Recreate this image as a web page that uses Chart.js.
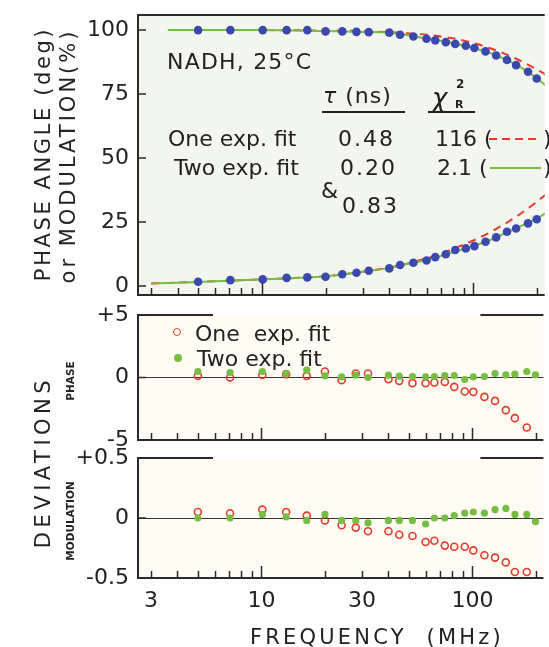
<!DOCTYPE html>
<html>
<head>
<meta charset="utf-8">
<script src="https://cdn.jsdelivr.net/npm/chart.js@4.4.0/dist/chart.umd.min.js"></script>
<style>
  body { margin: 0; background: #fff; }
  #wrap { position: relative; width: 549px; height: 647px; overflow: hidden; font-family: "DejaVu Sans", sans-serif; color: #222; }
  canvas { position: absolute; left: 0; }
  .txt { position: absolute; white-space: nowrap; line-height: 1; }
  .vert { position: absolute; white-space: nowrap; line-height: 1; transform: translate(-50%, -50%) rotate(-90deg); }
  .bar { position: absolute; }
</style>
</head>
<body>
<div id="wrap">
  <canvas id="mainChart" width="549" height="310" style="top:0px"></canvas>
  <canvas id="phaseDevChart" width="549" height="170" style="top:290px"></canvas>
  <canvas id="modDevChart" width="549" height="212" style="top:435px"></canvas>
</div>

<script>
// DATA
const FREQ = [5, 7.1, 10.1, 13.1, 16.4, 20, 24, 28, 32, 40, 45, 52, 60, 66, 74, 82, 92, 101, 114, 128, 144, 159, 181, 199];
const MOD_PTS = [100, 100, 100, 100, 100, 99.5, 99.5, 99.3, 99.2, 99.0, 98.2, 97.5, 96.6, 96.0, 95.3, 94.6, 93.9, 93.0, 91.7, 90.1, 88.3, 86.3, 83.7, 81.1];
const PHASE_PTS = [1.7, 2.3, 2.6, 3.2, 3.4, 3.6, 4.6, 5.2, 6.0, 6.9, 8.2, 9.1, 10.0, 11.3, 12.4, 14.1, 14.7, 15.6, 17.3, 19.0, 21.2, 22.5, 24.5, 26.1];

// fitted curves
const FIT_FREQ = [3, 3.6, 5, 7, 10, 15, 20, 30, 40, 50, 60, 70, 80, 100, 120, 140, 160, 180, 200, 220];
const ONE_MOD = [null, 100, 100, 100, 100, 99.9, 99.8, 99.6, 99.2, 98.7, 98.2, 97.5, 96.8, 94.9, 92.9, 90.8, 88.7, 86.6, 84.5, 82.6];
const TWO_MOD = [null, 100, 100, 100, 100, 99.8, 99.6, 99.3, 99.0, 97.9, 96.7, 95.8, 94.8, 93.0, 91.0, 88.8, 86.3, 83.8, 81.0, 78.3];
const ONE_PHASE = [1.0, 1.2, 1.6, 2.1, 2.6, 3.2, 3.8, 5.6, 7.2, 9.0, 10.8, 12.6, 14.5, 17.8, 21.0, 24.2, 27.2, 30.2, 33.0, 35.8];
const TWO_PHASE = [1.0, 1.2, 1.6, 2.1, 2.6, 3.2, 3.8, 5.6, 7.1, 8.8, 10.2, 11.7, 13.2, 15.7, 18.0, 20.5, 22.7, 24.6, 26.4, 28.6];

// deviations
const DEV_PHASE_ONE = [0.13, 0, 0.21, 0.27, 0.13, 0.48, -0.21, 0.32, 0.32, -0.13, -0.27, -0.45, -0.45, -0.4, -0.35, -0.75, -1.12, -1.15, -1.55, -1.87, -2.61, -3.25, -4.0, null];
const DEV_PHASE_TWO = [0.48, 0.4, 0.48, 0.32, 0.59, 0.13, 0.05, 0.19, 0, 0.19, 0.11, 0.08, 0.05, 0.08, 0.16, 0.16, -0.16, 0.05, 0.08, 0.32, 0.21, 0.27, 0.48, 0.21];
const DEV_MOD_ONE = [0.05, 0.04, 0.07, 0.05, 0.02, -0.02, -0.06, -0.08, -0.11, -0.11, -0.14, -0.15, -0.2, -0.19, -0.23, -0.24, -0.24, -0.27, -0.31, -0.33, -0.37, -0.45, -0.45, null];
const DEV_MOD_TWO = [0, 0, 0.03, 0.01, -0.02, 0.03, -0.02, -0.02, -0.04, -0.02, -0.02, -0.02, -0.05, 0, 0, 0.02, 0.04, 0.05, 0.04, 0.07, 0.08, 0.03, 0.03, -0.03];

// axes
const FREQ_TICKS = [3, 4, 5, 6, 7, 8, 9, 10, 20, 30, 40, 50, 60, 70, 80, 90, 100, 200];
const FREQ_LABELS = [3, 10, 30, 100];
const MAIN_TICKS = [0, 25, 50, 75, 100];
const PHASE_DEV_TICKS = [-5, 0, 5];
const MOD_DEV_TICKS = [-0.5, 0, 0.5];

const FONT = "DejaVu Sans";
const BLUE = "#3a49ad";
const GREEN = "#76bd43";
const RED = "#e63a2a";

const pts = (xs, ys) => xs.map((x, i) => ({ x: x, y: ys[i] }));

// FRAME: background, borders and inward ticks
const framePlugin = {
  id: "frame",
  beforeDraw(chart, args, opts) {
    const a = chart.chartArea;
    const ctx = chart.ctx;
    ctx.save();
    ctx.fillStyle = opts.bg;
    ctx.fillRect(a.left, a.top, a.right - a.left, a.bottom - a.top);
    ctx.restore();
  },
  afterDraw(chart, args, opts) {
    const a = chart.chartArea;
    const ctx = chart.ctx;
    const sx = chart.scales.x, sy = chart.scales.y;
    ctx.save();
    ctx.strokeStyle = "#2a2a2a";
    ctx.lineWidth = 2;
    ctx.beginPath();
    ctx.moveTo(a.left, a.top);
    ctx.lineTo(a.left, a.bottom);
    ctx.lineTo(a.right, a.bottom);
    if (opts.fullTop) {
      ctx.moveTo(a.left - 1, a.top);
      ctx.lineTo(a.right, a.top);
    } else {
      ctx.moveTo(a.left - 1, a.top);
      ctx.lineTo(a.left + 75, a.top);
      ctx.moveTo(a.right - 63, a.top);
      ctx.lineTo(a.right, a.top);
    }
    ctx.stroke();

    ctx.lineWidth = 1.5;
    ctx.beginPath();
    FREQ_TICKS.forEach(v => {
      const px = Math.round(sx.getPixelForValue(v)) + 0.5;
      const len = (v === 10 || v === 100) ? 12 : 7;
      ctx.moveTo(px, a.bottom);
      ctx.lineTo(px, a.bottom - len);
    });
    sy.ticks.forEach(t => {
      const py = sy.getPixelForValue(t.value);
      ctx.moveTo(a.left, py);
      ctx.lineTo(a.left + 8, py);
    });
    ctx.stroke();
    ctx.restore();
  }
};
Chart.register(framePlugin);

function makeOptions(o) {
  return {
    responsive: false,
    animation: false,
    layout: { padding: { top: o.padTop, left: 0, right: 0, bottom: 0 } },
    plugins: {
      legend: { display: false },
      tooltip: { enabled: false },
      frame: { bg: o.bg, fullTop: o.fullTop }
    },
    scales: {
      x: {
        type: "logarithmic",
        min: 2.6,
        max: 217,
        grid: { display: false, drawTicks: false },
        border: { display: false },
        afterBuildTicks: s => { s.ticks = FREQ_TICKS.map(v => ({ value: v })); },
        ticks: {
          display: o.xLabels,
          autoSkip: false,
          maxRotation: 0,
          padding: 10,
          color: "#222",
          font: { family: FONT, size: 22 },
          callback: v => FREQ_LABELS.includes(v) ? String(v) : ""
        },
        afterFit: s => { s.height = o.xHeight; s.paddingLeft = 0; s.paddingRight = 0; }
      },
      y: {
        min: o.yMin,
        max: o.yMax,
        afterBuildTicks: s => { s.ticks = o.yTicks.map(v => ({ value: v })); },
        grid: {
          display: o.zeroLine,
          drawTicks: false,
          color: c => (c.tick && c.tick.value === 0) ? "#333" : "rgba(0,0,0,0)",
          lineWidth: 1
        },
        border: { display: false },
        ticks: { padding: 9, color: "#222", font: { family: FONT, size: 22 }, callback: o.yFmt },
        afterFit: s => { s.width = 138; s.paddingTop = 0; s.paddingBottom = 0; }
      }
    }
  };
}

const signed = v => v > 0 ? "+" + v : String(v);

// MAIN CHART
new Chart(document.getElementById("mainChart"), {
  type: "line",
  data: {
    datasets: [
      { data: pts(FREQ, MOD_PTS), showLine: false, pointRadius: 4.3, pointBackgroundColor: BLUE, pointBorderWidth: 0 },
      { data: pts(FREQ, PHASE_PTS), showLine: false, pointRadius: 4.3, pointBackgroundColor: BLUE, pointBorderWidth: 0 },
      { data: pts(FIT_FREQ, TWO_MOD), borderColor: GREEN, borderWidth: 2, pointRadius: 0, cubicInterpolationMode: "monotone" },
      { data: pts(FIT_FREQ, TWO_PHASE), borderColor: GREEN, borderWidth: 2, pointRadius: 0, cubicInterpolationMode: "monotone" },
      { data: pts(FIT_FREQ, ONE_MOD), borderColor: RED, borderWidth: 2, borderDash: [8, 6], pointRadius: 0, cubicInterpolationMode: "monotone" },
      { data: pts(FIT_FREQ, ONE_PHASE), borderColor: RED, borderWidth: 2, borderDash: [8, 6], pointRadius: 0, cubicInterpolationMode: "monotone" }
    ]
  },
  options: makeOptions({
    padTop: 15, xHeight: 15, xLabels: false, bg: "#f3f6ee", fullTop: true,
    yMin: -3.5, yMax: 105.9, yTicks: MAIN_TICKS, zeroLine: false, yFmt: v => String(v)
  })
});

// PHASE DEVIATIONS
new Chart(document.getElementById("phaseDevChart"), {
  type: "line",
  data: {
    datasets: [
      { data: pts(FREQ, DEV_PHASE_TWO), showLine: false, pointRadius: 3.6, pointBackgroundColor: GREEN, pointBorderWidth: 0 },
      { data: pts(FREQ, DEV_PHASE_ONE), showLine: false, pointRadius: 3.5, pointBackgroundColor: "rgba(0,0,0,0)", pointBorderColor: RED, pointBorderWidth: 1.6 }
    ]
  },
  options: makeOptions({
    padTop: 25, xHeight: 20, xLabels: false, bg: "#fffdf3", fullTop: false,
    yMin: -5, yMax: 5, yTicks: PHASE_DEV_TICKS, zeroLine: true, yFmt: signed
  })
});

// MODULATION DEVIATIONS
new Chart(document.getElementById("modDevChart"), {
  type: "line",
  data: {
    datasets: [
      { data: pts(FREQ, DEV_MOD_TWO), showLine: false, pointRadius: 3.6, pointBackgroundColor: GREEN, pointBorderWidth: 0 },
      { data: pts(FREQ, DEV_MOD_ONE), showLine: false, pointRadius: 3.5, pointBackgroundColor: "rgba(0,0,0,0)", pointBorderColor: RED, pointBorderWidth: 1.6 }
    ]
  },
  options: makeOptions({
    padTop: 23, xHeight: 69, xLabels: true, bg: "#fffdf3", fullTop: false,
    yMin: -0.5, yMax: 0.5, yTicks: MOD_DEV_TICKS, zeroLine: true, yFmt: signed
  })
});

// TEXT
const wrap = document.getElementById("wrap");

function addText(html, x, cy, size, style) {
  const d = document.createElement("div");
  d.className = "txt";
  d.innerHTML = html;
  d.style.left = x + "px";
  d.style.top = (cy - size * 0.48) + "px";
  d.style.fontSize = size + "px";
  Object.assign(d.style, style || {});
  wrap.appendChild(d);
  return d;
}

function addVert(txt, cx, cy, size, style) {
  const d = document.createElement("div");
  d.className = "vert";
  d.textContent = txt;
  d.style.left = cx + "px";
  d.style.top = cy + "px";
  d.style.fontSize = size + "px";
  Object.assign(d.style, style || {});
  wrap.appendChild(d);
}

function addBar(x, y, w, h, bg) {
  const d = document.createElement("div");
  d.className = "bar";
  d.style.left = x + "px";
  d.style.top = y + "px";
  d.style.width = w + "px";
  d.style.height = h + "px";
  d.style.background = bg;
  wrap.appendChild(d);
  return d;
}

// axis titles
addVert("PHASE ANGLE (deg)", 43, 154, 21, { letterSpacing: "2.6px" });
addVert("or MODULATION(%)", 68, 156, 21, { letterSpacing: "3px" });
addVert("DEVIATIONS", 43, 462, 21, { letterSpacing: "4.5px" });
addVert("PHASE", 70, 381, 10.5, { fontWeight: "bold" });
addVert("MODULATION", 70, 521, 10.5, { fontWeight: "bold" });
addText("FREQUENCY&nbsp;&nbsp;(MHz)", 250, 637, 21, { letterSpacing: "3.2px" });

// top panel annotation
addText("NADH, 25°C", 167, 62, 22, { letterSpacing: "1.2px" });
addText("<i>τ</i> (ns)", 323, 96, 22, { letterSpacing: "1px" });
addBar(322, 111, 83, 2, "#222");
addText("<i>χ</i>", 432, 97, 26);
addText("2", 456, 84, 12, { fontWeight: "bold" });
addText("R", 455, 104, 11, { fontWeight: "bold" });
addBar(428, 111, 47, 2, "#222");

addText("One exp. fit", 168, 139, 22);
addText("0.48", 338, 139, 22, { letterSpacing: "2px" });
addText("116 (", 435, 139, 22);
addBar(489, 138, 52, 2, "repeating-linear-gradient(90deg, " + RED + " 0 8px, transparent 8px 13px)");
addText(")", 543, 139, 22);

addText("Two exp. fit", 174, 168, 22);
addText("0.20", 340, 168, 22, { letterSpacing: "2px" });
addText("2.1 (", 437, 168, 22);
addBar(490, 167, 51, 2, GREEN);
addText(")", 543, 168, 22);

addText("&amp;", 321, 191, 22);
addText("0.83", 342, 206, 22, { letterSpacing: "2px" });

// phase panel legend
const ring = addBar(173, 328, 8, 8, "transparent");
ring.style.border = "1.6px solid " + RED;
ring.style.borderRadius = "50%";
ring.style.boxSizing = "border-box";
addText("One&nbsp; exp. fit", 195, 334, 22);
const dot = addBar(174, 354, 8, 8, GREEN);
dot.style.borderRadius = "50%";
addText("Two exp. fit", 197, 359, 22);
</script>
</body>
</html>
